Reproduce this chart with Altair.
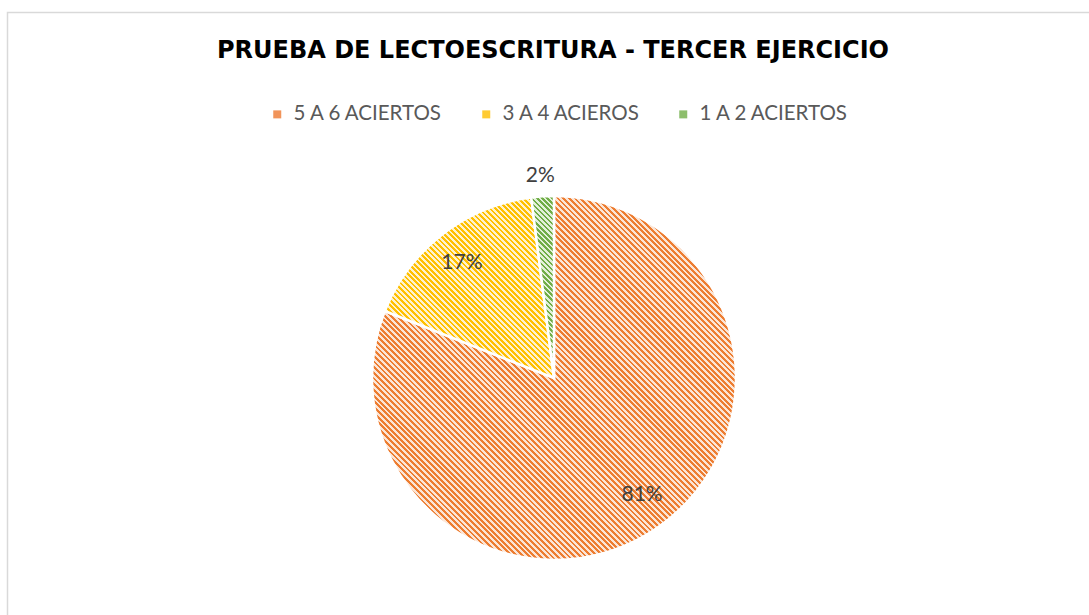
import math
import altair as alt
import pandas as pd

# ---- data ----
title_text = "PRUEBA DE LECTOESCRITURA - TERCER EJERCICIO"
categories = ["5 A 6 ACIERTOS", "3 A 4 ACIEROS", "1 A 2 ACIERTOS"]
values = [81, 17, 2]
labels = ["81%", "17%", "2%"]

# ---- styles ----
hatch_fg = ["#ED7D31", "#FFC000", "#70AD47"]
hatch_bg = ["#FBE5D6", "#FFF2CC", "#E2F0D9"]
hatch_n = [128, 64, 40]
legend_colors = ["#F1945A", "#FFCB33", "#8DBE6C"]
label_radius = [146, 147, 202]
label_dx = [6, -2, -1]
label_dy = [-4, 1, 0]

W, H = 1089, 615
PAD_TOP = 70
CX, CY = 554, 378 - PAD_TOP
R = 182
total = sum(values)

df = pd.DataFrame({
    "cat": categories,
    "value": values,
    "label": labels,
    "order": list(range(len(categories))),
})


def slice_bbox(a0, a1, r):
    pts = [(0.0, 0.0)]
    angs = [a0, a1] + [k * math.pi / 2 for k in range(5) if a0 < k * math.pi / 2 < a1]
    for a in angs:
        pts.append((r * math.sin(a), -r * math.cos(a)))
    xs = [p[0] for p in pts]
    ys = [p[1] for p in pts]
    return max(xs) - min(xs), max(ys) - min(ys)


def hatch(fg, bg, w, h, n, frac=0.5):
    t = (w + h) / (w * w + h * h)
    x2, y2 = t * w, 1 - t * h
    stops = []
    for k in range(n):
        a, b, c = k / n, (k + frac) / n, (k + 1) / n
        stops += [
            alt.GradientStop(offset=a, color=fg),
            alt.GradientStop(offset=b, color=fg),
            alt.GradientStop(offset=b, color=bg),
            alt.GradientStop(offset=c, color=bg),
        ]
    return alt.LinearGradient(gradient="linear", stops=stops, x1=0, y1=1, x2=x2, y2=y2)


base = alt.Chart(df).transform_stack(
    stack="value", groupby=[], as_=["v0", "v1"],
    sort=[alt.SortField("order", order="ascending")],
).transform_calculate(mid="(datum.v0 + datum.v1) / 2")

theta_scale = alt.Scale(domain=[0, total])

one = pd.DataFrame({"f": [0]})

frame = alt.Chart(one).mark_rect(
    fillOpacity=0, stroke="#D9D9D9", strokeWidth=1.5
).encode(
    x=alt.value(7.5), x2=alt.value(W + 100),
    y=alt.value(12.5 - PAD_TOP), y2=alt.value(H + 100),
)

title = alt.Chart(one).mark_text(
    text=title_text, font="DejaVu Sans", fontSize=24, fontWeight="bold",
    color="#000000", align="center", baseline="middle",
).encode(x=alt.value(553), y=alt.value(51 - PAD_TOP))

legend_layer = base.mark_arc(radius=R, stroke="white", strokeWidth=2.5).encode(
    theta=alt.Theta("v0:Q", scale=theta_scale, stack=False),
    theta2="v1:Q",
    x=alt.value(CX), y=alt.value(CY),
    color=alt.Color(
        "cat:N",
        scale=alt.Scale(domain=categories, range=legend_colors),
        sort=categories,
        legend=alt.Legend(
            title=None, orient="none", direction="horizontal",
            legendX=267, legendY=104 - PAD_TOP,
            symbolType="square", symbolSize=64, symbolStrokeWidth=0,
            labelFont="Lato", labelFontSize=20.5, labelColor="#595959",
            labelOffset=6, columnPadding=32, padding=0, labelLimit=400,
        ),
    ),
)

layers = [frame, title, legend_layer]
angle = 0.0
for i, cat in enumerate(categories):
    a0 = angle
    a1 = angle + values[i] / total * 2 * math.pi
    angle = a1
    w, h = slice_bbox(a0, a1, R)
    grad = hatch(hatch_fg[i], hatch_bg[i], w, h, hatch_n[i])
    layers.append(
        base.transform_filter(alt.datum.cat == cat)
        .mark_arc(radius=R, fill=grad, stroke="white", strokeWidth=2.5)
        .encode(
            theta=alt.Theta("v0:Q", scale=theta_scale, stack=False),
            theta2="v1:Q",
            x=alt.value(CX), y=alt.value(CY),
        )
    )

for i, cat in enumerate(categories):
    layers.append(
        base.transform_filter(alt.datum.cat == cat)
        .mark_text(
            radius=label_radius[i], dx=label_dx[i], dy=label_dy[i],
            font="Lato", fontSize=21, color="#404040",
            align="center", baseline="middle",
        )
        .encode(
            theta=alt.Theta("mid:Q", scale=theta_scale, stack=False),
            text="label:N",
            x=alt.value(CX), y=alt.value(CY),
        )
    )

chart = alt.layer(*layers).properties(
    width=W, height=H - PAD_TOP,
    autosize="none",
    padding={"left": 0, "top": PAD_TOP, "right": 0, "bottom": 0},
).configure_view(stroke=None)

chart.save("out.html", embed_options={"renderer": "svg", "actions": False})
